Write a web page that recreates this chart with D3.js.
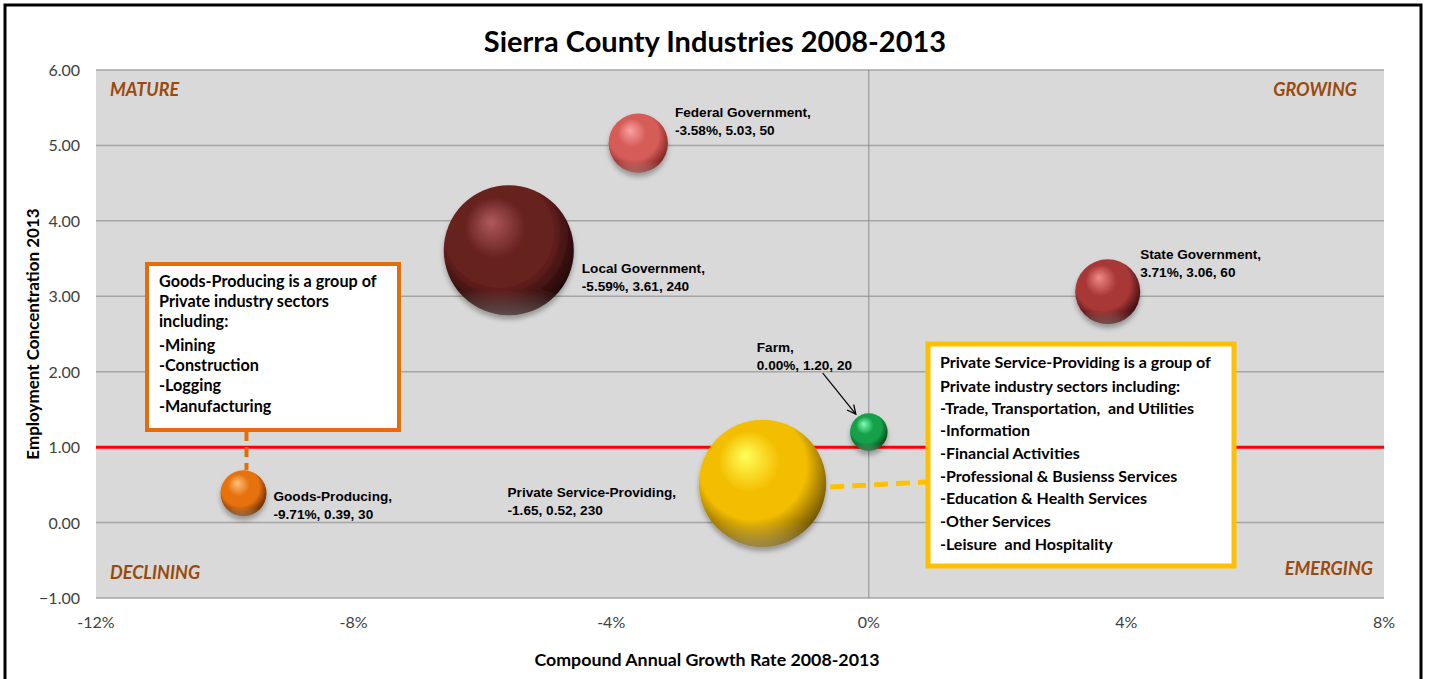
<!DOCTYPE html>
<html>
<head>
<meta charset="utf-8">
<script src="https://cdn.jsdelivr.net/npm/d3@7"></script>
<style>
  body { margin: 0; background: #fff; }
  svg { display: block; }
</style>
</head>
<body>
<div class="graph"></div>
<script>
// data
const industries = ["Federal Government", "Local Government", "State Government", "Farm", "Goods-Producing", "Private Service-Providing"];
const growth = [-3.58, -5.59, 3.71, 0.00, -9.71, -1.65];
const concentration = [5.03, 3.61, 3.06, 1.20, 0.39, 0.52];
const employment = [50, 240, 60, 20, 30, 230];
const valueLabels = ["-3.58%, 5.03, 50", "-5.59%, 3.61, 240", "3.71%, 3.06, 60", "0.00%, 1.20, 20", "-9.71%, 0.39, 30", "-1.65, 0.52, 230"];
const xTicks = [-12, -8, -4, 0, 4, 8];
const yTicks = [-1, 0, 1, 2, 3, 4, 5, 6];
const quadrants = ["MATURE", "GROWING", "DECLINING", "EMERGING"];
const goodsNote = ["Goods-Producing is a group of", "Private industry sectors", "including:", "-Mining", "-Construction", "-Logging", "-Manufacturing"];
const serviceNote = ["Private Service-Providing is a group of", "Private industry sectors including:", "-Trade, Transportation,  and Utilities", "-Information", "-Financial Activities", "-Professional & Busienss Services", "-Education & Health Services", "-Other Services", "-Leisure  and Hospitality"];

// bubble colours [highlight, base, edge]
const colors = {
    "Federal Government": ["#f9a3a0", "#d65c58", "#7e2422"],
    "Local Government": ["#b05a5a", "#66201f", "#1e0505"],
    "State Government": ["#f28a88", "#a83838", "#3e0c0c"],
    "Farm": ["#80ffb8", "#14a048", "#044418"],
    "Goods-Producing": ["#ffc27a", "#e5720f", "#6a2c00"],
    "Private Service-Providing": ["#ffff5a", "#f4be00", "#725600"]
};
// label offsets from bubble edge / centre
const labelPos = {
    "Federal Government": [7, -26],
    "Local Government": [8, 23],
    "State Government": [0, -33],
    "Farm": [-112, -80],
    "Goods-Producing": [7, 8],
    "Private Service-Providing": [-255, 14]
};

const width = 1429, height = 679;
const plot = {left: 96, right: 1384, top: 70, bottom: 598};

let x = d3.scaleLinear().domain([-12, 8]).range([plot.left, plot.right]);
let y = d3.scaleLinear().domain([-1, 6]).range([plot.bottom, plot.top]);
let r = d3.scaleSqrt().domain([0, 240]).range([0, 65]);

let data = industries.map((d, i) => ({
    name: d, gx: growth[i], cy: concentration[i], size: employment[i], label: valueLabels[i]
}));

let svg = d3.select(".graph").append("svg")
    .attr("width", width)
    .attr("height", height)
    .style("font-family", "Lato, 'Open Sans', sans-serif");

let defs = svg.append("defs");
data.forEach((d, i) => {
    let c = colors[d.name];
    let g = defs.append("radialGradient")
        .attr("id", "grad" + i)
        .attr("cx", "45%").attr("cy", "40%").attr("r", "60%")
        .attr("fx", "36%").attr("fy", "28%");
    g.append("stop").attr("offset", "0%").attr("stop-color", c[0]);
    g.append("stop").attr("offset", "40%").attr("stop-color", c[1]);
    g.append("stop").attr("offset", "70%").attr("stop-color", c[1]);
    g.append("stop").attr("offset", "100%").attr("stop-color", c[2]);
});
let rim = defs.append("linearGradient")
    .attr("id", "rim")
    .attr("x1", 0).attr("y1", 0).attr("x2", 0).attr("y2", 1);
rim.append("stop").attr("offset", "80%").attr("stop-color", "#fff").attr("stop-opacity", 0);
rim.append("stop").attr("offset", "100%").attr("stop-color", "#fff").attr("stop-opacity", 0.28);

let shadow = defs.append("filter").attr("id", "shadow")
    .attr("x", "-30%").attr("y", "-30%").attr("width", "160%").attr("height", "170%");
shadow.append("feDropShadow").attr("dx", 0).attr("dy", 4).attr("stdDeviation", 2.5)
    .attr("flood-color", "#000").attr("flood-opacity", 0.3);
defs.append("marker")
    .attr("id", "arrow")
    .attr("viewBox", "0 0 10 10")
    .attr("refX", 9).attr("refY", 5)
    .attr("markerWidth", 9).attr("markerHeight", 9)
    .attr("orient", "auto")
    .append("path")
    .attr("d", "M1,1 L9,5 L1,9")
    .attr("fill", "none")
    .attr("stroke", "#000")
    .attr("stroke-width", 1.2);

// outer frame
svg.append("rect")
    .attr("x", 5).attr("y", 5)
    .attr("width", 1416).attr("height", 700)
    .attr("fill", "#fff")
    .attr("stroke", "#000")
    .attr("stroke-width", 3);

// title
svg.append("text")
    .attr("x", 715).attr("y", 52)
    .attr("text-anchor", "middle")
    .style("font-size", "29px")
    .style("font-weight", "bold")
    .text("Sierra County Industries 2008-2013");

// plot area
svg.append("rect")
    .attr("x", plot.left).attr("y", plot.top)
    .attr("width", plot.right - plot.left).attr("height", plot.bottom - plot.top)
    .attr("fill", "#d9d9d9");

svg.append("g").selectAll("line")
    .data(yTicks)
    .join("line")
    .attr("x1", plot.left).attr("x2", plot.right)
    .attr("y1", d => y(d)).attr("y2", d => y(d))
    .attr("stroke", "#a5a5a5")
    .attr("stroke-width", 1.5);

svg.append("line")
    .attr("x1", x(0)).attr("x2", x(0))
    .attr("y1", plot.top).attr("y2", plot.bottom)
    .attr("stroke", "#8c8c8c")
    .attr("stroke-width", 1);

// y axis labels
svg.append("g").selectAll("text")
    .data(yTicks)
    .join("text")
    .attr("x", 80)
    .attr("y", d => y(d) + 6)
    .attr("text-anchor", "end")
    .attr("fill", "#404040")
    .style("font-size", "16px")
    .text(d => d3.format(".2f")(d));

// x axis labels
svg.append("g").selectAll("text")
    .data(xTicks)
    .join("text")
    .attr("x", d => x(d))
    .attr("y", 628)
    .attr("text-anchor", "middle")
    .attr("fill", "#404040")
    .style("font-size", "16px")
    .text(d => d + "%");

// axis titles
svg.append("text")
    .attr("transform", "translate(39," + ((plot.top + plot.bottom) / 2) + ") rotate(-90)")
    .attr("text-anchor", "middle")
    .style("font-size", "17px")
    .style("font-weight", "bold")
    .text("Employment Concentration 2013");

svg.append("text")
    .attr("x", 707).attr("y", 666)
    .attr("text-anchor", "middle")
    .style("font-size", "17.8px")
    .style("font-weight", "bold")
    .text("Compound Annual Growth Rate 2008-2013");

// quadrant labels
let qPos = [[110, 96, "start"], [1357, 96, "end"], [110, 579, "start"], [1373, 575, "end"]];
svg.append("g").selectAll("text")
    .data(quadrants)
    .join("text")
    .attr("x", (d, i) => qPos[i][0])
    .attr("y", (d, i) => qPos[i][1])
    .attr("text-anchor", (d, i) => qPos[i][2])
    .attr("fill", "#9a4a0c")
    .style("font-size", "18px")
    .style("font-weight", "bold")
    .style("font-style", "italic")
    .text(d => d);

// location quotient = 1 line
svg.append("line")
    .attr("x1", plot.left).attr("x2", plot.right)
    .attr("y1", y(1)).attr("y2", y(1))
    .attr("stroke", "#ff0000")
    .attr("stroke-width", 3);

// bubbles
let bubbles = svg.append("g").selectAll("g")
    .data(data)
    .join("g")
    .attr("filter", "url(#shadow)");
bubbles.append("circle")
    .attr("cx", d => x(d.gx))
    .attr("cy", d => y(d.cy))
    .attr("r", d => r(d.size))
    .attr("fill", (d, i) => "url(#grad" + i + ")");
bubbles.append("circle")
    .attr("cx", d => x(d.gx))
    .attr("cy", d => y(d.cy))
    .attr("r", d => r(d.size))
    .attr("fill", "url(#rim)");

// bubble labels
let labels = svg.append("g").selectAll("text")
    .data(data)
    .join("text")
    .attr("x", d => {
        let o = labelPos[d.name][0];
        return o >= 0 ? x(d.gx) + r(d.size) + o : x(d.gx) + o;
    })
    .attr("y", d => y(d.cy) + labelPos[d.name][1])
    .style("font-family", "'Liberation Sans', Arial, sans-serif")
    .style("font-size", "13.6px")
    .style("font-weight", "bold")
    .attr("fill", "#000");
labels.append("tspan").text(d => d.name + ",");
labels.append("tspan")
    .attr("x", function () { return d3.select(this.parentNode).attr("x"); })
    .attr("dy", 18)
    .text(d => d.label);

// farm arrow
let farm = data[3];
svg.append("line")
    .attr("x1", x(farm.gx) - 46).attr("y1", y(farm.cy) - 59)
    .attr("x2", x(farm.gx) - 13).attr("y2", y(farm.cy) - 18)
    .attr("stroke", "#000")
    .attr("stroke-width", 1.2)
    .attr("marker-end", "url(#arrow)");

// callout connectors
let goods = data[4], serv = data[5];
svg.append("line")
    .attr("x1", x(goods.gx) + 3).attr("y1", 431)
    .attr("x2", x(goods.gx) + 3).attr("y2", y(goods.cy) - r(goods.size))
    .attr("stroke", "#e46c0a")
    .attr("stroke-width", 4)
    .attr("stroke-dasharray", "10,6");

svg.append("line")
    .attr("x1", x(serv.gx) + r(serv.size) + 4).attr("y1", 487)
    .attr("x2", 927).attr("y2", 482)
    .attr("stroke", "#ffc000")
    .attr("stroke-width", 5)
    .attr("stroke-dasharray", "14,8");

// callout boxes
function callout(lines, bx, by, bw, bh, color, sw, tx, ys, fs) {
    svg.append("rect")
        .attr("x", bx).attr("y", by)
        .attr("width", bw).attr("height", bh)
        .attr("fill", "#fff")
        .attr("stroke", color)
        .attr("stroke-width", sw);
    svg.append("g").selectAll("text")
        .data(lines)
        .join("text")
        .attr("x", tx)
        .attr("y", (d, i) => ys[i])
        .style("font-size", fs + "px")
        .style("font-weight", "bold")
        .style("white-space", "pre")
        .attr("fill", "#000")
        .text(d => d);
}
callout(goodsNote, 147, 264, 252, 166, "#e46c0a", 4, 159, [287, 307, 327, 351, 371, 391, 412], 16.2);
callout(serviceNote, 928, 344, 306, 222, "#ffc000", 5, 940, [368, 392, 414, 436, 459, 482, 504, 527, 550], 16);
</script>
</body>
</html>
